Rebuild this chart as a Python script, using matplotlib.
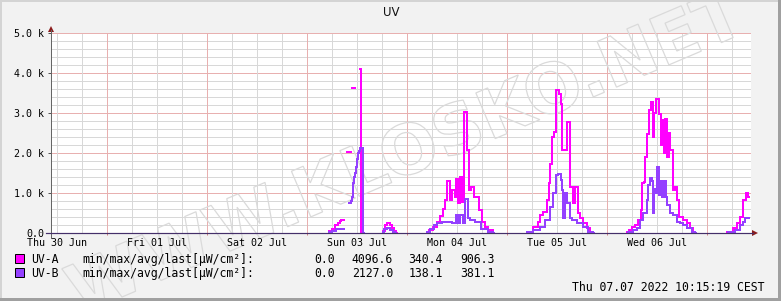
import numpy as np
import matplotlib
matplotlib.use("Agg")
import matplotlib.pyplot as plt
from matplotlib.patches import Rectangle, Polygon, PathPatch
from matplotlib.lines import Line2D
from matplotlib.textpath import TextPath
from matplotlib.font_manager import FontProperties
from matplotlib.transforms import Affine2D

nan = float('nan')

# ---- data: hours since Thu 30 Jun 00:00, values in uW/cm2 (NaN = gap) ----
uva_hours = [77.28, 78.00, 78.72, 79.44, 79.92, 80.16, 80.88,
             81.60, 82.56,
             82.80, 83.64,
             84.84, 85.08, 85.20,
             90.24, 90.72, 91.20, 91.92, 92.40, 92.88, 93.36, 93.60,
             100.80, 101.28, 102.24, 103.20, 103.92, 104.64, 105.12, 105.60, 106.32, 106.80,
             107.52, 107.76, 108.24, 108.72, 109.20, 109.68, 110.40, 110.88, 111.36, 112.08,
             113.28, 114.00, 114.72, 115.44, 116.64, 116.88,
             124.80, 126.24, 127.44, 127.92, 128.64, 129.60, 130.08, 130.32, 130.80, 131.28,
             131.88, 132.36, 132.96, 133.32, 134.40, 135.12, 135.84, 136.32, 137.04, 137.52,
             138.24, 139.20, 139.92, 140.64, 140.88,
             148.80, 149.28, 150.00, 150.72, 151.44, 152.16, 152.40, 152.88, 153.12, 153.60,
             154.08, 154.56, 155.04, 155.28, 155.76, 156.48, 156.96, 157.20, 157.68, 157.92,
             158.40, 158.88, 159.12, 159.84, 160.32, 160.80, 161.28, 162.24, 163.20, 163.92,
             164.64, 165.12, 165.36,
             172.80, 174.24, 175.20, 175.92, 176.64, 177.36, 177.84, 178.20]
uva_values = [40, 110, 190, 260, 310, 330, nan,
              2030, nan,
              3625, nan,
              4096.6, 0, nan,
              60, 200, 240, 200, 120, 40, 0, nan,
              20, 67, 150, 275, 420, 600, 820, 1300, 820, 1070,
              900, 1360, 740, 1400, 780, 3025, 2070, 1070, 1150, 900,
              570, 275, 150, 67, 0, nan,
              25, 150, 275, 440, 525, 815, 1240, 1735, 2400, 2525,
              3570, 3485, 3235, 2070, 2775, 1150, 740, 1150, 490, 365,
              240, 115, 25, 0, nan,
              30, 67, 140, 190, 317, 567, 1240, 1275, 1900, 2480,
              3070, 3275, 2400, 3000, 3360, 2985, 2200, 2815, 2000, 2860,
              1900, 2500, 2070, 1065, 1150, 815, 400, 317, 240, 115,
              25, 0, nan,
              30, 115, 240, 400, 815, 990, 906.3, nan]

uvb_hours = [77.28, 78.00, 78.96, 79.92, 80.88,
             82.08, 82.56, 82.80, 83.04, 83.28, 83.52, 83.76, 84.00, 84.24, 84.48,
             84.72, 85.44, 85.68,
             90.24, 90.48, 91.20, 91.92, 92.64, 93.12, 93.36,
             100.80, 101.52, 102.48, 103.20, 104.40, 106.80, 107.76, 108.24, 108.72, 109.44,
             109.92, 110.64, 111.12, 112.32, 113.76, 115.44, 116.64, 116.88,
             124.80, 126.24, 127.92, 129.12, 130.32, 131.04, 131.76, 132.24, 132.96, 133.20,
             133.44, 133.92, 134.40, 135.12, 135.60, 136.80, 138.24, 139.44, 140.64, 140.88,
             149.04, 150.24, 151.20, 151.92, 152.64, 153.60, 153.84, 154.32, 154.80, 155.04,
             155.28, 155.52, 156.00, 156.48, 156.72, 157.20, 157.68, 158.16, 158.40, 159.12,
             159.84, 160.80, 161.52, 162.24, 163.20, 164.40, 165.12, 165.36,
             173.04, 174.72, 175.92, 176.64, 177.12, 177.84, 178.20]
uvb_values = [20, 60, 100, 110, nan,
              740, 800, 900, 1240, 1400, 1500, 1650, 1860, 1990, 2050,
              2127.0, 0, nan,
              30, 100, 115, 80, 30, 0, nan,
              20, 110, 200, 250, 275, 250, 440, 250, 440, 250,
              850, 365, 320, 267, 110, 30, 0, nan,
              20, 80, 150, 317, 650, 990, 1440, 1480, 1315, 1065,
              365, 990, 740, 365, 317, 240, 150, 25, 0, nan,
              20, 67, 115, 317, 490, 815, 1190, 1365, 1300, 500,
              1100, 1000, 1650, 950, 1300, 900, 1300, 900, 700, 490,
              450, 275, 240, 190, 115, 25, 0, nan,
              20, 67, 190, 275, 365, 381.1, nan]

day_labels = ['Thu 30 Jun', 'Fri 01 Jul', 'Sat 02 Jul', 'Sun 03 Jul',
              'Mon 04 Jul', 'Tue 05 Jul', 'Wed 06 Jul']
label_hours = [12, 36, 60, 84, 108, 132, 156]
y_ticks = [0, 1000, 2000, 3000, 4000, 5000]
y_ticklabels = ['0.0', '1.0 k', '2.0 k', '3.0 k', '4.0 k', '5.0 k']
series_names = ['UV-A', 'UV-B']
series_colors = ['#ff00ff', '#9440ff']
stat_label = 'min/max/avg/last[\u00b5W/cm\u00b2]:'
uva_stats = [0.0, 4096.6, 340.4, 906.3]
uvb_stats = [0.0, 2127.0, 138.1, 381.1]
title = 'UV'
timestamp = 'Thu 07.07 2022 10:15:19 CEST'
watermark = 'WWW.KLOSKO.NET'
x_start, x_end = 10.56, 178.56

# ---- figure ----
W, H, DPI = 781, 301, 100
PX = 72.0 / DPI  # points per pixel
fig = plt.figure(figsize=(W / DPI, H / DPI), dpi=DPI)
fig.patch.set_facecolor('#f2f2f2')
pix = Affine2D().scale(1.0 / W, 1.0 / H) + fig.transFigure  # pixel coords (origin bottom-left)

def fy(py):
    return H - py

# border (3D frame)
for (x, y, w, h, c) in [(0, H - 2, W, 2, '#d4d4d4'), (0, 0, 2, H, '#d4d4d4'),
                        (W - 3, 0, 3, H, '#a0a0a0'), (0, 0, W, 3, '#a0a0a0')]:
    fig.patches.append(Rectangle((x, y), w, h, transform=pix, color=c, lw=0))

ax = fig.add_axes([51 / W, (H - 233) / H, 700 / W, 200 / H])
ax.set_facecolor('white')
for s in ax.spines.values():
    s.set_visible(False)

# grid (crisp 1px dotted lines)
dot = (0, (1, 1))
for v in np.arange(200, 5001, 200):
    major = (v % 1000 == 0)
    ax.axhline(v, color='#e8b0b0' if major else '#d8d8d8', lw=PX, ls=dot, zorder=1,
               antialiased=False)
for hh in np.arange(12, 180, 6):
    if hh <= x_start or hh >= x_end:
        continue
    major = (hh % 24 == 0)
    ax.axvline(hh, color='#e8b0b0' if major else '#d8d8d8', lw=PX, ls=dot, zorder=1,
               antialiased=False)

# watermark (outlined text)
fp = FontProperties(family='DejaVu Sans', weight='bold')
tp = TextPath((0, 0), watermark, size=68, prop=fp)
bb = tp.get_extents()
tr = Affine2D().translate(-(bb.x0 + bb.x1) / 2, -(bb.y0 + bb.y1) / 2).rotate_deg(23) \
    .translate(405, fy(150))
wm = PathPatch(tr.transform_path(tp), facecolor='none', edgecolor='#dadada',
               lw=0.9, transform=pix, zorder=1.5, clip_on=False)
ax.add_artist(wm)

# data
ax.plot(uva_hours, uva_values, drawstyle='steps-post', color=series_colors[0],
        lw=2 * PX, zorder=3, solid_joinstyle='miter')
ax.plot(uvb_hours, uvb_values, drawstyle='steps-post', color=series_colors[1],
        lw=2 * PX, zorder=4, solid_joinstyle='miter')

ax.set_xlim(x_start, x_end)
ax.set_ylim(0, 5000)

mono = 'DejaVu Sans Mono'
ax.set_xticks(label_hours)
ax.set_xticklabels(day_labels, fontsize=7.2, family=mono)
ax.tick_params(axis='x', length=0, pad=5 * PX)
ax.set_xticks([24 * d for d in range(1, 8)], minor=True)
ax.tick_params(axis='x', which='minor', length=2 * PX, width=PX, color='#d08080')
ax.set_yticks(y_ticks)
ax.set_yticklabels(y_ticklabels, fontsize=7.2, family=mono)
ax.tick_params(axis='y', length=3 * PX, width=PX, color='#555555', pad=4 * PX)
ax.yaxis.set_minor_locator(matplotlib.ticker.NullLocator())

# axes lines and arrows
fig.lines.append(Line2D([51, 51], [fy(238), fy(30)], transform=pix, color='#666666', lw=PX))
fig.lines.append(Line2D([46, 753], [fy(233), fy(233)], transform=pix, color='#45306a', lw=1.2 * PX))
fig.patches.append(Polygon([(48, fy(32)), (54, fy(32)), (51, fy(26))], closed=True,
                           transform=pix, color='#8b1c1c', lw=0))
fig.patches.append(Polygon([(752, fy(230)), (752, fy(236)), (758, fy(233))], closed=True,
                           transform=pix, color='#8b1c1c', lw=0))

# title
fig.text(391 / W, fy(13) / H, title, ha='center', va='center', fontsize=8.5,
         family='DejaVu Sans', color='#111111')

# legend
rows = [(263, series_names[0], series_colors[0], uva_stats),
        (277, series_names[1], series_colors[1], uvb_stats)]
stat_right = [335, 393, 443, 495]
for base, name, col, stats in rows:
    fig.patches.append(Rectangle((15, fy(base)), 9, 9, transform=pix, facecolor=col,
                                 edgecolor='black', lw=PX))
    fig.text(31 / W, fy(base) / H, name, ha='left', va='baseline', fontsize=8.3, family=mono)
    fig.text(82 / W, fy(base) / H, stat_label, ha='left', va='baseline', fontsize=8.3, family=mono)
    for xr, v in zip(stat_right, stats):
        fig.text(xr / W, fy(base) / H, f'{v:.1f}', ha='right', va='baseline',
                 fontsize=8.3, family=mono)

fig.text(765 / W, fy(291) / H, timestamp, ha='right', va='baseline', fontsize=8.3, family=mono)

fig.savefig('out.png', dpi=DPI, facecolor=fig.get_facecolor())
